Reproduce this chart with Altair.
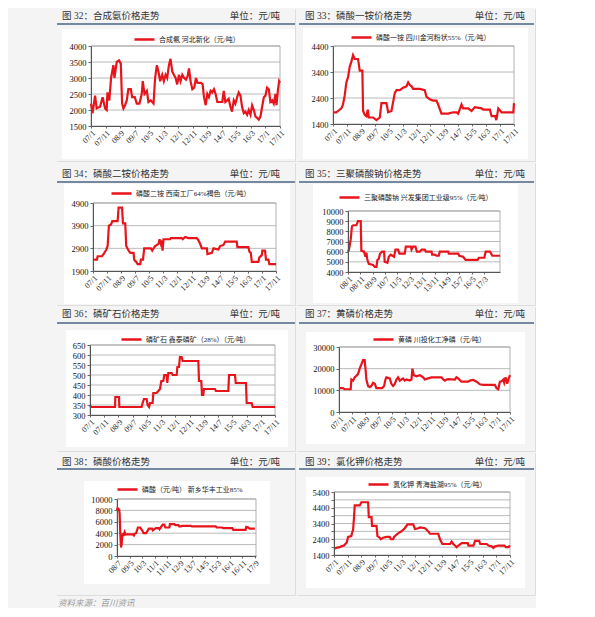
import altair as alt
import pandas as pd

RED = "#e8141b"
BG = "#f4f4f4"
NUM_FONT = "Liberation Serif"
CJK_FONT = "Liberation Serif, Noto Sans CJK SC"

# ---------------- data ----------------
titles = ["图 32：合成氨价格走势", "图 33：磷酸一铵价格走势", "图 34：磷酸二铵价格走势",
          "图 35：三聚磷酸钠价格走势", "图 36：磷矿石价格走势", "图 37：黄磷价格走势",
          "图 38：磷酸价格走势", "图 39：氯化钾价格走势"]
unit_label = "单位：元/吨"
series_names = ["合成氨 河北新化（元/吨）", "磷酸一铵 四川金河粉状55%（元/吨）",
                "磷酸二铵 西南工厂64%褐色（元/吨）", "三聚磷酸钠 兴发集团工业级95%（元/吨）",
                "磷矿石 鑫泰磷矿（28%）（元/吨）", "黄磷 川投化工净磷（元/吨）",
                "磷酸（元/吨） 新乡华丰工业85%", "氯化钾 青海盐湖95%（元/吨）"]
footer = "资料来源：百川资讯"

# month index since 2007-01, price
p32 = [[0,2200],[1.1,1900],[2.8,2450],[3.9,2050],[6.2,2100],[8.0,2400],[9.7,2050],[10.8,2000],[11.3,2550],
       [12.6,2300],[13.8,3000],[15.4,3400],[16.1,3000],[17.7,3500],[19.3,3550],[20.5,3450],[21.4,2200],
       [22.3,2050],[23.4,2150],[24.6,2300],[25.7,2650],[27.4,2650],[28.3,2400],[30.1,2400],[31.5,2200],
       [33.3,2200],[34.9,2500],[35.6,2900],[36.8,2500],[38.4,2600],[39.5,2250],[41.1,2300],[43.0,2200],
       [44.1,3000],[45.3,3400],[46.4,3200],[47.6,2900],[49.0,3100],[50.1,2900],[51.3,3100],[52.4,3000],
       [53.6,3400],[54.7,3600],[55.9,3200],[57.0,3100],[58.2,3000],[59.3,2800],[60.5,3100],[61.6,2900],
       [62.8,3100],[64.1,3000],[65.3,2950],[66.4,3050],[67.4,3300],[68.5,2900],[69.7,2650],[71.0,2700],
       [72.2,3000],[73.3,2850],[75.6,2850],[76.8,2800],[77.7,2400],[78.9,2150],[80.0,2500],[81.1,2400],
       [82.3,2600],[83.4,2550],[84.6,2650],[85.7,2500],[86.9,2250],[90.3,2250],[91.3,2600],[92.4,2250],
       [93.6,2300],[94.7,2350],[95.9,2100],[97.0,1950],[98.2,2300],[99.3,2200],[100.5,2400],[101.6,2550],
       [102.8,2450],[103.9,2100],[105.1,1900],[106.2,1950],[107.4,1850],[108.5,2000],[109.7,1850],
       [110.8,2150],[112.0,2000],[113.1,1800],[114.3,1750],[115.4,1700],[116.6,1800],[117.7,2100],
       [118.9,2400],[120.0,2450],[121.1,2700],[122.3,2650],[123.4,2250],[124.6,2300],[125.7,2200],
       [126.9,2500],[127.6,2150],[128.5,2600],[129.4,2900],[130.0,2850]]
p33 = [[0,1850],[2.4,1850],[3.6,1900],[6.0,2000],[7.2,2150],[8.4,2500],[9.6,3000],[10.8,3200],[12.0,3600],
       [13.2,3800],[14.4,4050],[15.6,3900],[18.0,3900],[19.2,3450],[21.1,3450],[21.6,1900],[22.8,1750],
       [24.0,1700],[25.0,1950],[25.7,1650],[28.8,1650],[31.2,1550],[33.6,1650],[34.8,2200],[38.4,2200],
       [39.6,1850],[42.0,1900],[44.4,2600],[45.6,2700],[48.0,2700],[50.4,2800],[52.8,2850],[54.0,3000],
       [55.2,2900],[56.4,2850],[57.6,2750],[62.4,2750],[65.9,2700],[67.1,2450],[69.5,2350],[71.9,2300],
       [74.3,2300],[75.5,2150],[77.9,1800],[82.7,1800],[86.3,1850],[88.7,1850],[89.9,1800],[92.3,2150],
       [93.5,2000],[97.1,2000],[99.5,1900],[101.9,2050],[106.7,2000],[107.9,1950],[112.7,1950],
       [113.9,1700],[116.5,1700],[117.3,1550],[117.8,1700],[118.7,2000],[121.1,1850],[129.5,1850],
       [130.0,2200]]
p34 = [[0,2400],[2.8,2400],[3.3,2550],[6.4,2550],[7.6,2650],[9.5,2850],[10.4,3000],[11.3,3900],[12.8,3950],
       [13.7,4100],[17.5,4100],[18.2,4700],[20.6,4700],[21.3,4000],[22.9,4000],[23.6,3000],[25.3,2800],
       [26.5,2700],[28.8,2700],[29.3,2400],[30.7,2300],[31.7,2200],[33.6,2200],[34.0,2400],[35.5,2400],
       [36.4,2900],[41.1,2900],[42.1,2800],[43.0,2900],[44.2,3000],[46.6,3100],[47.3,3300],[48.2,3100],
       [48.9,3250],[49.4,2800],[50.1,3300],[54.8,3300],[55.3,3350],[63.1,3350],[63.8,3300],[65.5,3400],
       [67.8,3350],[73.8,3350],[74.9,3250],[76.1,3100],[77.3,2900],[80.9,2900],[81.3,2650],[84.4,2700],
       [85.6,2900],[89.1,2850],[90.3,3000],[92.7,3050],[93.9,3200],[102.1,3200],[102.6,2950],[110.4,2950],
       [111.1,2750],[112.1,2700],[112.8,2300],[117.5,2300],[118.2,2500],[119.9,2600],[120.3,2800],
       [122.2,2800],[122.9,2400],[124.6,2400],[125.3,2200],[130.0,2200]]
p35 = [[12.0,6000],[12.8,6200],[14.2,7200],[15.2,8500],[16.3,8600],[18.8,8600],[20.1,9000],[22.3,9000],
       [22.8,6100],[25.0,6000],[26.1,5500],[26.9,5900],[27.7,5200],[28.8,4800],[32.3,4700],[33.6,4500],
       [35.0,4500],[35.8,5200],[36.9,5300],[37.9,5800],[39.6,6000],[41.2,6000],[41.7,5000],[43.9,4900],
       [45.0,5500],[46.6,5700],[49.3,5500],[50.4,6200],[52.5,6200],[53.6,5800],[57.9,5800],[58.8,6500],
       [62.8,6500],[63.4,6200],[64.7,6500],[66.6,6500],[67.7,6000],[70.1,6000],[71.5,6200],[74.2,6200],
       [75.0,6000],[79.6,6000],[80.1,5700],[82.3,5700],[83.6,5600],[85.5,5600],[86.3,6000],[93.1,6000],
       [93.6,5800],[101.2,5800],[102.0,5600],[105.2,5500],[107.1,5200],[116.9,5200],[117.9,5400],
       [122.3,5400],[123.4,6000],[126.9,6000],[128.8,5600],[135.0,5600]]
p36 = [[0,350],[0.7,340],[17.6,340],[17.8,390],[20.4,390],[20.6,340],[36.3,340],[37.0,360],[37.9,380],
       [39.8,380],[40.5,350],[41.5,340],[42.2,360],[44.0,360],[44.5,410],[46.8,410],[48.0,420],[49.2,430],
       [50.1,470],[51.5,470],[52.2,500],[53.9,500],[54.3,460],[55.0,510],[57.4,510],[58.1,500],[60.9,500],
       [61.4,540],[62.5,540],[63.2,590],[64.4,590],[65.1,570],[76.1,570],[76.6,470],[78.2,470],[78.7,400],
       [79.6,400],[80.1,430],[87.8,430],[88.5,420],[97.2,420],[97.7,500],[101.9,500],[102.4,460],
       [109.6,460],[110.1,360],[113.6,360],[114.3,340],[130.0,340]]
p37 = [[0,11000],[3.0,11000],[4.3,10500],[8.9,10500],[9.4,15000],[10.7,14500],[11.9,16000],[14.5,17500],
       [15.7,20000],[17.0,22000],[18.3,24000],[19.5,24000],[20.3,19000],[20.8,15000],[22.1,12000],
       [23.4,11500],[24.6,12000],[25.9,13500],[27.2,13000],[28.4,11000],[32.7,11000],[34.3,12000],
       [35.3,15000],[36.0,16000],[38.6,15500],[39.8,13000],[41.1,12000],[42.4,13000],[43.7,15000],
       [44.9,16000],[46.2,14500],[47.5,15000],[48.7,15500],[50.0,14500],[51.3,15000],[53.8,14500],
       [55.1,15000],[55.8,20000],[56.9,17000],[58.9,16500],[61.4,17000],[62.7,16500],[64.0,16000],
       [65.2,15000],[67.8,15500],[70.3,16000],[77.9,16000],[79.2,15000],[80.5,14500],[81.7,15000],
       [83.0,15200],[88.1,15000],[89.3,16000],[90.6,15500],[93.1,14000],[98.2,14000],[99.5,14500],
       [102.0,14800],[104.6,14000],[107.1,12800],[109.6,12500],[118.5,12500],[119.8,11000],[121.1,10500],
       [122.3,14000],[123.6,14200],[124.9,15000],[125.6,13500],[126.6,16000],[127.9,13000],[128.7,15000],
       [130.0,17000]]
p38 = [[18.0,8000],[18.5,8500],[19.1,7900],[19.6,8300],[20.1,7500],[20.6,4000],[21.2,1500],[21.7,2000],
       [22.2,3500],[22.8,4000],[23.3,3500],[24.1,4200],[24.9,3800],[30.7,3800],[31.5,3600],[32.0,3900],
       [33.3,4000],[34.7,5000],[36.5,5000],[38.1,4500],[39.2,4000],[41.3,4000],[42.6,4500],[43.4,4800],
       [46.0,4800],[46.6,4500],[47.9,4700],[49.2,4900],[51.3,4900],[51.9,4700],[52.9,5000],[54.5,5500],
       [55.8,5500],[56.6,5000],[59.8,5000],[60.3,5600],[63.8,5600],[64.6,5400],[67.2,5400],[67.7,5200],
       [69.1,5200],[69.9,5300],[77.0,5300],[77.8,5200],[96.8,5200],[97.6,5000],[102.1,5000],[102.7,4900],
       [110.1,4900],[110.9,4600],[120.7,4600],[121.2,5100],[122.8,5000],[123.8,4800],[128.1,4800]]
p39 = [[0,1800],[1.7,1850],[4.2,1900],[5.4,1950],[7.4,2000],[8.4,2100],[9.4,2200],[10.4,2550],[12.8,2600],
       [13.3,2800],[14.1,3000],[14.8,3800],[15.3,4550],[19.0,4550],[20.2,4750],[25.2,4750],[25.7,3800],
       [27.7,3800],[28.1,3250],[31.4,3250],[32.1,2600],[33.8,2500],[34.6,2400],[36.3,2500],[38.8,2550],
       [41.2,2550],[42.0,2400],[43.7,2400],[44.4,2550],[46.2,2700],[48.6,2850],[49.9,2900],[51.1,3000],
       [52.3,3100],[54.3,3350],[58.5,3350],[59.8,3050],[62.2,3100],[63.5,3150],[67.2,3100],[68.4,3000],
       [69.6,2900],[70.9,2750],[77.0,2750],[78.3,2400],[80.0,2100],[85.7,2100],[86.9,2250],[88.1,2100],
       [89.4,2000],[90.6,1900],[91.9,2000],[94.3,2150],[98.8,2150],[99.3,2000],[103.0,2000],[104.2,2300],
       [107.2,2300],[108.0,2100],[112.8,2100],[114.1,2000],[116.5,1950],[117.7,1850],[119.0,1950],
       [121.5,2000],[125.9,2000],[126.9,1900],[128.9,1900],[130.0,2000]]
series = [p32, p33, p34, p35, p36, p37, p38, p39]

y_ticks = [[1500, 2000, 2500, 3000, 3500, 4000], [1400, 2400, 3400, 4400], [1900, 2900, 3900, 4900],
           [4000, 5000, 6000, 7000, 8000, 9000, 10000], [300, 350, 400, 450, 500, 550, 600, 650],
           [0, 10000, 20000, 30000], [0, 2000, 4000, 6000, 8000, 10000],
           [1400, 1900, 2400, 2900, 3400, 3900, 4400, 4900, 5400]]
x_domains = [[0, 130], [0, 130], [0, 130], [12, 135], [0, 130], [0, 130], [18, 129], [0, 130]]
x_first_tick = [0, 0, 0, 12, 0, 0, 18, 0]
x_last_tick = [130, 130, 130, 122, 130, 130, 128, 130]

# ---------------- layout (pixels inside each cell) ----------------
CELL_W = 238
row_h = [152, 142, 144, 142]
layout = [
    dict(plot=(34, 223, 37, 117), box=(5, 238, 20, 150), hx=5, hy=7, ux=223, ul=(0, 238, 15), leg=(76, 31)),
    dict(plot=(36, 217, 37, 115), box=(6, 231, 19, 150), hx=8, hy=7, ux=228, ul=(2, 237, 15), leg=(53, 29)),
    dict(plot=(36, 219, 40, 108), box=(7, 233, 21, 141), hx=5, hy=11, ux=223, ul=(0, 238, 19), leg=(53, 31)),
    dict(plot=(51, 203, 48, 109), box=(16, 221, 21, 140), hx=8, hy=11, ux=228, ul=(2, 237, 19), leg=(41, 35)),
    dict(plot=(33, 218, 38, 108), box=(9, 231, 23, 140), hx=5, hy=7, ux=223, ul=(0, 238, 16), leg=(63, 33)),
    dict(plot=(42, 213, 40, 105), box=(9, 228, 25, 137), hx=8, hy=7, ux=228, ul=(2, 237, 16), leg=(75, 33)),
    dict(plot=(60, 199, 46, 103), box=(27, 213, 28, 131), hx=5, hy=9, ux=223, ul=(0, 238, 16), leg=(59, 37)),
    dict(plot=(37, 213, 39, 102), box=(9, 228, 24, 135), hx=8, hy=9, ux=228, ul=(2, 237, 16), leg=(70, 32)),
]

LABEL_EXPR = ("(floor(datum.value/12)+7 < 10 ? '0' : '') + (floor(datum.value/12)+7) + '/' + "
              "(datum.value % 12 + 1)")

one = pd.DataFrame({"k": [0]})


def rect(x0, x1, y0, y1, **kw):
    return alt.Chart(one).mark_rect(**kw).encode(
        x=alt.value(x0), x2=alt.value(x1), y=alt.value(y0), y2=alt.value(y1))


def text(x, y, s, **kw):
    return alt.Chart(one).mark_text(**kw).encode(x=alt.value(x), y=alt.value(y), text=alt.value(s))


def panel(i, H):
    L = layout[i]
    x0, x1, y0, y1 = L["plot"]
    df = pd.DataFrame(series[i], columns=["m", "v"])
    df["s"] = series_names[i]
    yt = y_ticks[i]
    xt = list(range(x_first_tick[i], x_last_tick[i] + 1, 10))
    xs = alt.Scale(domain=x_domains[i], range=[x0, x1], nice=False, zero=False)
    ys = alt.Scale(domain=[yt[0], yt[-1]], range=[y1, y0], nice=False, zero=False)
    xax = alt.Axis(values=xt, labelExpr=LABEL_EXPR, labelAngle=315, labelFontSize=8, labelFont=NUM_FONT,
                   labelColor="#222", tickSize=2, tickColor="#666", domainColor="#555", grid=False,
                   title=None, labelPadding=1, zindex=1, labelOverlap=False, offset=-(H - y1))
    yax = alt.Axis(values=yt, format="d", labelFontSize=8.5, labelFont=NUM_FONT, labelColor="#111",
                   tickSize=3, tickColor="#666", domainColor="#555", grid=False, title=None,
                   labelPadding=2, zindex=1, offset=-x0)
    X = alt.X("m:Q", scale=xs, axis=xax)
    Y = alt.Y("v:Q", scale=ys, axis=yax)

    b = L["box"]
    ux0, ux1, uy = L["ul"]
    layers = [
        rect(0, CELL_W, 0, H, fill=BG),
        rect(b[0], b[1], b[2], b[3], fill="white"),
        alt.Chart(pd.DataFrame({"v": yt[1:]})).mark_rule(color="#a8a8a8", strokeWidth=0.8).encode(
            y=Y, x=alt.value(x0), x2=alt.value(x1)),
        rect(x0, x1, y0, y1, fillOpacity=0, stroke="#a0a0a0", strokeWidth=0.8),
        alt.Chart(df).mark_line(strokeWidth=2.2).encode(
            x=X, y=Y,
            color=alt.Color("s:N", scale=alt.Scale(range=[RED]),
                            legend=alt.Legend(orient="none", legendX=L["leg"][0], legendY=L["leg"][1] - 12,
                                              title=None, symbolType="stroke", symbolSize=400,
                                              symbolStrokeWidth=2.5, labelFont=CJK_FONT, labelFontSize=7,
                                              labelColor="#222", padding=0, labelOffset=3))),
        text(L["hx"], L["hy"], titles[i], align="left", baseline="middle", fontSize=9.5, font=CJK_FONT,
             color="#333"),
        text(L["ux"], L["hy"], unit_label, align="right", baseline="middle", fontSize=9.5, font=CJK_FONT,
             color="#333"),
        rect(ux0, ux1, uy - 0.75, uy + 0.75, fill="#4a6484"),
    ]
    if i == 6:
        layers.append(text(1, 150, footer, align="left", baseline="middle", fontSize=8.5,
                           font="Noto Sans CJK SC", fontStyle="italic", color="#9a9a9a"))
    return alt.layer(*layers).properties(width=CELL_W, height=H)


rows = [alt.hconcat(panel(2 * r, row_h[r]), panel(2 * r + 1, row_h[r]), spacing=0)
        .resolve_scale(color="independent").resolve_legend(color="independent") for r in range(4)]
chart = alt.vconcat(*rows, spacing=0).resolve_scale(color="independent").resolve_legend(
    color="independent").properties(
    padding={"left": 48, "top": 0, "right": 0, "bottom": 0}, background=BG
).configure_view(strokeWidth=0).configure(font=NUM_FONT)

chart.save("out.html", embed_options={"renderer": "svg", "actions": False})
